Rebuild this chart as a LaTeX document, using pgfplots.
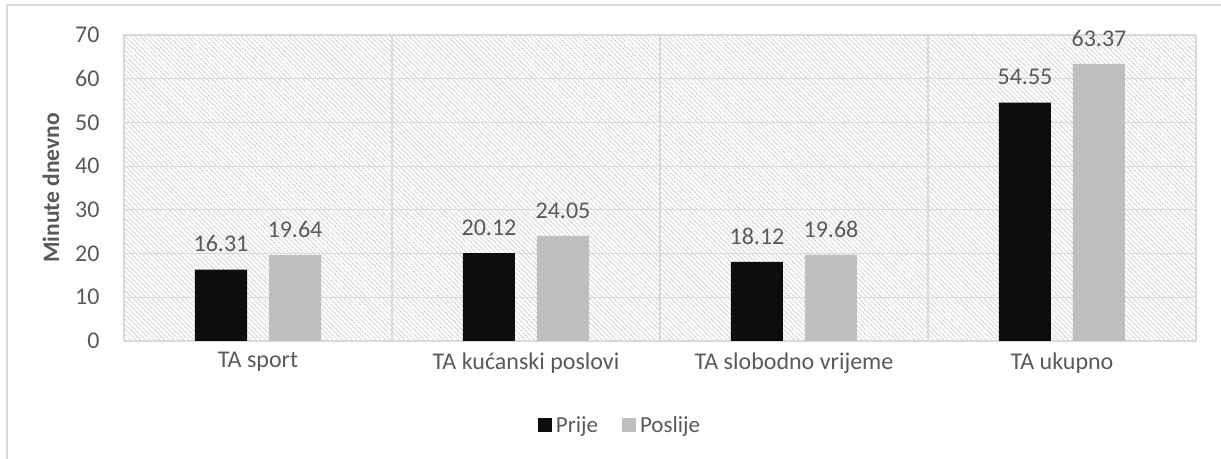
\documentclass[border=0pt]{standalone}
\usepackage{pgfplots}
\pgfplotsset{compat=1.18}
\usepackage{fontspec}
\setmainfont{Carlito}
\usetikzlibrary{patterns.meta}
\definecolor{txt}{HTML}{595959}
\definecolor{gridc}{HTML}{D9D9D9}
\definecolor{prije}{HTML}{0D0D0D}
\definecolor{poslije}{HTML}{BFBFBF}
\begin{document}
\begin{tikzpicture}[x=1bp,y=1bp]
\path[use as bounding box] (0,0) rectangle (1221,459);
\draw[gridc, line width=1.2bp] (7,0) -- (7,454) -- (1221,454);
\begin{axis}[
  at={(124bp,118bp)}, anchor=south west,
  scale only axis, width=1072bp, height=306bp,
  xmin=-0.5, xmax=3.5, ymin=0, ymax=70,
  ytick={0,10,...,70},
  xtick={0,1,2,3},
  xticklabels={TA sport, TA kućanski poslovi, TA slobodno vrijeme, TA ukupno},
  minor xtick={0.5,1.5,2.5},
  ymajorgrids, xminorgrids,
  grid style={gridc, line width=1.2bp},
  minor grid style={gridc, line width=1.2bp},
  axis line style={gridc, line width=1.2bp},
  major tick length=0pt, minor tick length=0pt,
  tick style={draw=none},
  ticklabel style={font=\fontsize{24bp}{28bp}\selectfont, text=txt},
  yticklabel style={xshift=-21bp},
  xticklabel style={yshift=-8bp},
  /pgf/number format/assume math mode=true,
  ylabel={\textbf{Minute dnevno}},
  ylabel style={font=\fontsize{23.5bp}{27bp}\selectfont, text=txt, at={(axis description cs:-0.057,0.5)}, anchor=south},
  axis background/.style={pattern={Lines[angle=-45, distance=3.4bp, line width=1bp]}, pattern color=gridc},
  ybar=22bp, bar width=52bp,
  nodes near coords,
  nodes near coords style={font=\fontsize{24bp}{28bp}\selectfont, text=txt, yshift=14bp, /pgf/number format/.cd, fixed, precision=2, fixed zerofill, assume math mode=true},
  legend style={at={(axis description cs:0.4627,-0.2745)}, anchor=center, draw=none, fill=none,
    font=\fontsize{23bp}{27bp}\selectfont, text=txt, legend columns=2,
    /tikz/every even column/.append style={column sep=22bp}},
  legend image code/.code={\fill[#1] (0bp,-7bp) rectangle (14bp,7bp);},
]
\addplot[fill=prije, draw=none] coordinates {(0,16.31) (1,20.12) (2,18.12) (3,54.55)};
\addlegendentry{\hspace{2bp}Prije}
\addplot[fill=poslije, draw=none] coordinates {(0,19.64) (1,24.05) (2,19.68) (3,63.37)};
\addlegendentry{\hspace{2bp}Poslije}
\end{axis}
\end{tikzpicture}
\end{document}
